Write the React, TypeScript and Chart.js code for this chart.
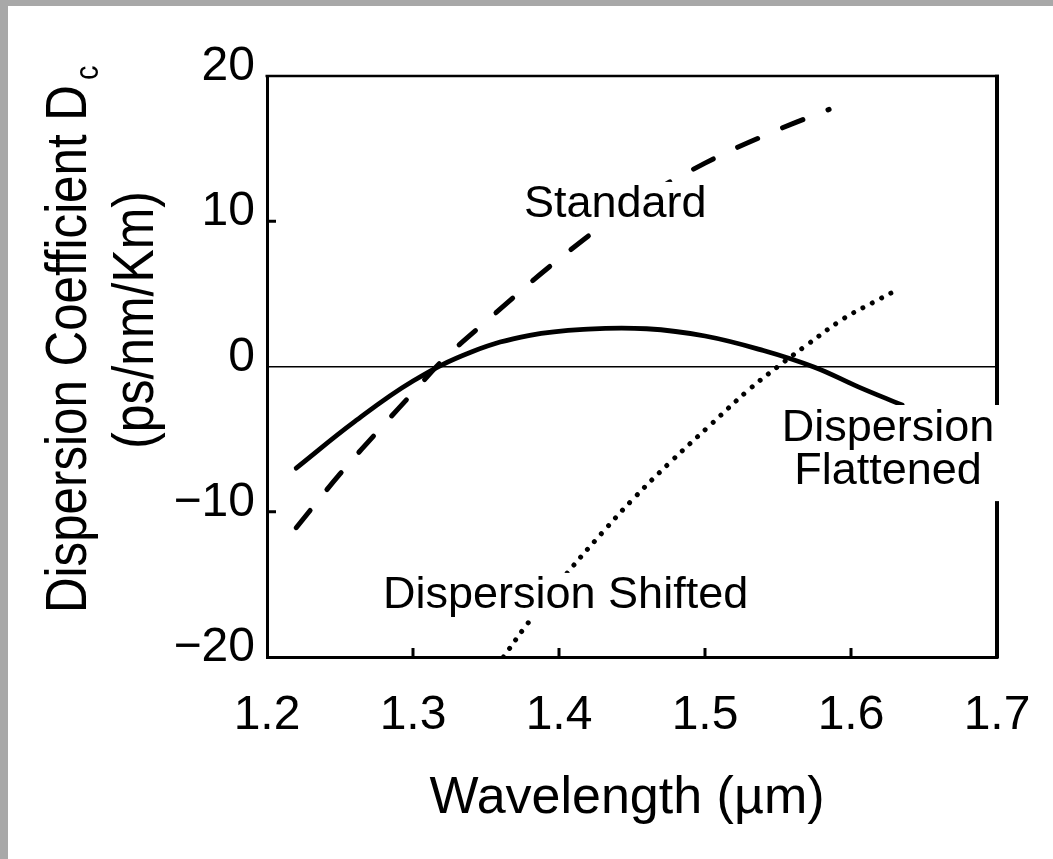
import React, { useEffect, useRef } from "react";
import { Chart, registerables } from "chart.js";

Chart.register(...registerables);

// ---- data (wavelength in µm, dispersion in ps/nm/km) ----
const standardX = [1.22, 1.25, 1.28, 1.3, 1.32, 1.35, 1.4, 1.45, 1.5, 1.55, 1.585];
const standardY = [-11.1, -7.4, -4.0, -1.8, 0.4, 3.1, 7.4, 11.1, 14.0, 16.3, 17.7];

const flattenedX = [1.22, 1.26, 1.3, 1.34, 1.38, 1.42, 1.46, 1.5, 1.54, 1.575, 1.605, 1.635];
const flattenedY = [-7.0, -3.8, -1.0, 1.0, 2.15, 2.58, 2.6, 2.1, 1.1, -0.05, -1.4, -2.65];

const shiftedX = [1.362, 1.377, 1.405, 1.43, 1.45, 1.475, 1.505, 1.53, 1.55, 1.57, 1.595, 1.615, 1.633];
const shiftedY = [-20, -17.9, -14.3, -11.4, -9.2, -6.7, -3.9, -1.6, 0.0, 1.5, 3.3, 4.4, 5.35];

const xTicks = [1.2, 1.3, 1.4, 1.5, 1.6, 1.7];
const yTicks = [-20, -10, 0, 10, 20];

const xTitle = "Wavelength (\u00b5m)";
const yTitleLine1 = "Dispersion Coefficient D";
const yTitleSub = "c";
const yTitleLine2 = "(ps/nm/Km)";

const labelStandard = "Standard";
const labelShifted = "Dispersion Shifted";
const labelFlattened = ["Dispersion", "Flattened"];

const FONT = '"Liberation Sans", Arial, Helvetica, sans-serif';

function pts(xs: number[], ys: number[]) {
  return xs.map((x, i) => ({ x, y: ys[i] }));
}

export default function App() {
  const ref = useRef<HTMLCanvasElement>(null);

  useEffect(() => {
    document.body.style.margin = "0";
    const canvas = ref.current;
    if (!canvas) return;

    const decor = {
      id: "decor",
      beforeDatasetsDraw(chart: any) {
        const { ctx, chartArea: a, scales } = chart;
        ctx.save();
        ctx.strokeStyle = "#000";
        ctx.lineCap = "butt";
        // top frame line
        ctx.lineWidth = 2.5;
        ctx.beginPath();
        ctx.moveTo(a.left - 1.5, a.top);
        ctx.lineTo(a.right + 2, a.top);
        ctx.stroke();
        // right frame line
        ctx.lineWidth = 4;
        ctx.beginPath();
        ctx.moveTo(a.right, a.top - 1.2);
        ctx.lineTo(a.right, a.bottom + 1.5);
        ctx.stroke();
        // inward ticks
        ctx.lineWidth = 3;
        for (const v of xTicks) {
          if (v === xTicks[0] || v === xTicks[xTicks.length - 1]) continue;
          const px = scales.x.getPixelForValue(v);
          ctx.beginPath();
          ctx.moveTo(px, a.bottom);
          ctx.lineTo(px, a.bottom - 9);
          ctx.stroke();
        }
        for (const v of yTicks) {
          if (v === yTicks[0] || v === yTicks[yTicks.length - 1] || v === 0) continue;
          const py = scales.y.getPixelForValue(v);
          ctx.beginPath();
          ctx.moveTo(a.left, py);
          ctx.lineTo(a.left + 9, py);
          ctx.stroke();
        }
        ctx.restore();
      },
      afterDatasetsDraw(chart: any) {
        const { ctx } = chart;
        const size = 45;
        ctx.save();
        ctx.font = `${size}px ${FONT}`;
        ctx.textBaseline = "alphabetic";
        ctx.textAlign = "left";
        const box = (x0: number, y0: number, x1: number, y1: number) => {
          ctx.fillStyle = "#fff";
          ctx.fillRect(x0, y0, x1 - x0, y1 - y0);
        };
        const text = (t: string, x: number, y: number) => {
          ctx.fillStyle = "#000";
          ctx.fillText(t, x, y);
        };
        // Standard
        const wS = ctx.measureText(labelStandard).width;
        box(520, 217 - size * 0.78, 524 + wS + 4, 217 + size * 0.25);
        text(labelStandard, 524, 217);
        // Dispersion Shifted
        const wSh = ctx.measureText(labelShifted).width;
        box(379, 608 - size * 0.78, 383 + wSh + 4, 608 + size * 0.25);
        text(labelShifted, 383, 608);
        // Dispersion Flattened (two centered lines, one white box)
        const w1 = ctx.measureText(labelFlattened[0]).width;
        const w2 = ctx.measureText(labelFlattened[1]).width;
        const cx = 888;
        const wm = Math.max(w1, w2);
        box(cx - wm / 2 - 4, 441 - size * 0.8, cx + wm / 2 + 10, 484 + size * 0.38);
        text(labelFlattened[0], cx - w1 / 2, 441);
        text(labelFlattened[1], cx - w2 / 2, 484);
        ctx.restore();
      },
      afterDraw(chart: any) {
        const { ctx } = chart;
        ctx.save();
        ctx.fillStyle = "#000";
        // x title
        ctx.font = `52px ${FONT}`;
        ctx.textAlign = "center";
        ctx.textBaseline = "alphabetic";
        ctx.fillText(xTitle, 627, 813);

        // y title line 1 with subscript
        const big = 58;
        ctx.save();
        ctx.translate(86, 613);
        ctx.rotate(-Math.PI / 2);
        ctx.scale(0.85, 1);
        ctx.font = `${big}px ${FONT}`;
        ctx.textAlign = "left";
        ctx.fillText(yTitleLine1, 0, 0);
        const w1 = ctx.measureText(yTitleLine1).width;
        ctx.font = `34px ${FONT}`;
        ctx.fillText(yTitleSub, w1 + 6, 12);
        ctx.restore();

        // y title line 2
        ctx.save();
        ctx.translate(153, 320);
        ctx.rotate(-Math.PI / 2);
        ctx.scale(0.86, 1);
        ctx.font = `${big}px ${FONT}`;
        ctx.textAlign = "center";
        ctx.fillText(yTitleLine2, 0, 0);
        ctx.restore();

        ctx.restore();
      },
    };

    const chart = new Chart(canvas, {
      type: "line",
      data: {
        datasets: [
          {
            label: "Standard",
            data: pts(standardX, standardY),
            borderColor: "#000",
            borderWidth: 5,
            borderDash: [22, 27],
            borderCapStyle: "round",
            pointRadius: 0,
            tension: 0.4,
            fill: false,
          },
          {
            label: "Dispersion Flattened",
            data: pts(flattenedX, flattenedY),
            borderColor: "#000",
            borderWidth: 4.8,
            borderCapStyle: "round",
            pointRadius: 0,
            tension: 0.4,
            fill: false,
          },
          {
            label: "Dispersion Shifted",
            data: pts(shiftedX, shiftedY),
            borderColor: "#000",
            borderWidth: 5,
            borderDash: [0.01, 10.5],
            borderCapStyle: "round",
            pointRadius: 0,
            tension: 0.4,
            fill: false,
          },
        ],
      },
      options: {
        responsive: false,
        animation: false,
        devicePixelRatio: 1,
        layout: { padding: { top: 76, right: 56, left: 0, bottom: 0 } },
        plugins: {
          legend: { display: false },
          tooltip: { enabled: false },
          title: { display: false },
        },
        events: [],
        scales: {
          x: {
            type: "linear",
            min: xTicks[0],
            max: xTicks[xTicks.length - 1],
            afterBuildTicks: (s: any) => {
              s.ticks = xTicks.map((v) => ({ value: v }));
            },
            ticks: {
              font: { family: FONT, size: 48 },
              color: "#000",
              padding: 30,
              maxRotation: 0,
              autoSkip: false,
              callback: (v: any) => Number(v).toFixed(1),
            },
            grid: { display: false, drawTicks: false },
            border: { display: true, color: "#000", width: 3 },
            afterFit: (s: any) => {
              s.height = 202;
              s.paddingLeft = 0;
              s.paddingRight = 0;
            },
          },
          y: {
            type: "linear",
            min: yTicks[0],
            max: yTicks[yTicks.length - 1],
            afterBuildTicks: (s: any) => {
              s.ticks = yTicks.map((v) => ({ value: v }));
            },
            ticks: {
              font: { family: FONT, size: 48 },
              color: "#000",
              padding: 12,
              labelOffset: -9,
              autoSkip: false,
              callback: (v: any) => (Number(v) < 0 ? "\u2212" + Math.abs(Number(v)) : String(v)),
            },
            grid: {
              drawTicks: false,
              color: (c: any) => (c.tick && c.tick.value === 0 ? "#000" : "rgba(0,0,0,0)"),
              lineWidth: 1.6,
            },
            border: { display: true, color: "#000", width: 3 },
            afterFit: (s: any) => {
              s.width = 267;
              s.paddingTop = 0;
              s.paddingBottom = 0;
            },
          },
        },
      },
      plugins: [decor],
    } as any);

    return () => chart.destroy();
  }, []);

  return (
    <div style={{ position: "absolute", left: 0, top: 0, width: 1053, height: 859, background: "#fff" }}>
      <canvas ref={ref} width={1053} height={859} style={{ position: "absolute", left: 0, top: 0 }} />
      <div style={{ position: "absolute", left: 0, top: 0, width: 8, height: 859, background: "#a8a8a8" }} />
      <div style={{ position: "absolute", left: 0, top: 0, width: 1053, height: 6, background: "#a8a8a8" }} />
    </div>
  );
}
